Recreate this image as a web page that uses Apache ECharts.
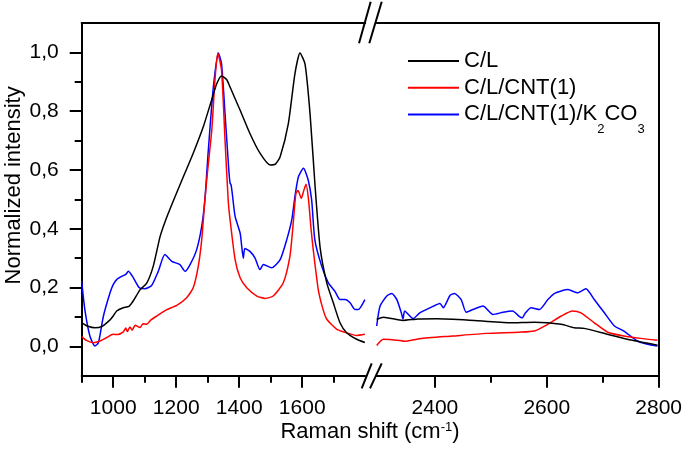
<!DOCTYPE html>
<html>
<head>
<meta charset="utf-8">
<script src="https://cdn.jsdelivr.net/npm/echarts@6/dist/echarts.min.js"></script>
<style>
html,body{margin:0;padding:0;background:#fff;}
#chart{width:685px;height:454px;}
</style>
</head>
<body>
<div id="chart"></div>
<script>
// ---- data (Raman shift cm-1, normalized intensity) ----
const seriesNames = ['C/L', 'C/L/CNT(1)', 'C/L/CNT(1)/K2CO3'];
const seriesColors = ['#000000', '#ff0000', '#0000ff'];

const clLow = [[900,0.080],[920,0.068],[942,0.063],[965,0.068],[990,0.090],[1000,0.103],[1011,0.120],[1032,0.131],[1050,0.136],[1064,0.155],[1085,0.192],[1106,0.214],[1127,0.272],[1149,0.374],[1165,0.425],[1191,0.495],[1222,0.575],[1254,0.657],[1286,0.747],[1313,0.840],[1329,0.894],[1344,0.920],[1360,0.908],[1371,0.882],[1403,0.803],[1434,0.724],[1466,0.657],[1498,0.617],[1515,0.620],[1530,0.645],[1556,0.758],[1577,0.928],[1593,0.998],[1609,0.960],[1625,0.790],[1641,0.543],[1657,0.335],[1678,0.216],[1699,0.147],[1720,0.080],[1741,0.046],[1773,0.024],[1799,0.013]];
const clHigh = [[2296,0.092],[2308,0.099],[2343,0.088],[2370,0.093],[2403,0.094],[2462,0.089],[2534,0.080],[2578,0.082],[2626,0.075],[2649,0.063],[2667,0.061],[2708,0.041],[2744,0.024],[2798,0.004]];

const cntLow = [[900,0.033],[915,0.020],[937,0.012],[958,0.018],[980,0.030],[1000,0.041],[1015,0.040],[1032,0.049],[1040,0.062],[1045,0.050],[1053,0.066],[1060,0.055],[1070,0.072],[1085,0.064],[1095,0.077],[1106,0.075],[1120,0.090],[1138,0.103],[1170,0.125],[1202,0.139],[1233,0.165],[1254,0.199],[1270,0.272],[1281,0.363],[1291,0.498],[1300,0.600],[1313,0.736],[1323,0.905],[1332,0.998],[1344,0.939],[1355,0.702],[1365,0.498],[1371,0.431],[1387,0.295],[1403,0.233],[1424,0.199],[1456,0.171],[1482,0.163],[1508,0.171],[1540,0.216],[1561,0.306],[1570,0.400],[1580,0.520],[1587,0.530],[1597,0.503],[1605,0.530],[1612,0.551],[1620,0.500],[1628,0.400],[1635,0.329],[1651,0.193],[1665,0.130],[1678,0.092],[1710,0.058],[1741,0.046],[1773,0.037],[1799,0.041]];
const cntHigh = [[2296,0.003],[2308,0.024],[2337,0.020],[2345,0.017],[2373,0.026],[2432,0.035],[2492,0.044],[2550,0.048],[2578,0.052],[2602,0.075],[2626,0.103],[2646,0.120],[2661,0.114],[2685,0.080],[2709,0.048],[2738,0.035],[2768,0.027],[2798,0.021]];

const kLow = [[900,0.221],[910,0.125],[926,0.035],[942,0.001],[953,0.012],[969,0.103],[990,0.182],[1000,0.210],[1011,0.227],[1027,0.238],[1040,0.245],[1048,0.255],[1064,0.233],[1083,0.199],[1101,0.196],[1122,0.207],[1143,0.255],[1164,0.312],[1186,0.289],[1212,0.278],[1228,0.255],[1244,0.278],[1265,0.329],[1281,0.408],[1291,0.498],[1302,0.668],[1318,0.882],[1334,0.998],[1344,0.961],[1355,0.792],[1367,0.600],[1371,0.555],[1374,0.550],[1378,0.520],[1387,0.442],[1403,0.385],[1408,0.340],[1413,0.300],[1418,0.333],[1434,0.323],[1450,0.301],[1466,0.261],[1477,0.278],[1503,0.267],[1530,0.295],[1551,0.363],[1567,0.431],[1577,0.510],[1588,0.577],[1604,0.606],[1619,0.566],[1630,0.498],[1640,0.363],[1662,0.272],[1683,0.216],[1704,0.187],[1720,0.159],[1736,0.159],[1752,0.148],[1768,0.125],[1778,0.125],[1799,0.159]];
const kHigh = [[2296,0.069],[2302,0.137],[2314,0.171],[2323,0.180],[2332,0.159],[2340,0.114],[2343,0.092],[2346,0.120],[2361,0.094],[2373,0.114],[2391,0.131],[2409,0.146],[2415,0.131],[2427,0.173],[2435,0.180],[2447,0.159],[2456,0.116],[2468,0.125],[2486,0.137],[2504,0.108],[2522,0.116],[2539,0.120],[2550,0.103],[2556,0.097],[2562,0.114],[2572,0.131],[2587,0.125],[2602,0.159],[2614,0.180],[2638,0.193],[2655,0.182],[2670,0.196],[2685,0.159],[2703,0.114],[2721,0.069],[2738,0.052],[2762,0.018],[2780,0.007],[2798,0.001]];

const xLowRange = [900, 1800];
const xHighRange = [2296, 2800];
const yRange = [-0.1, 1.1];
const xLowMajor = [1000, 1200, 1400, 1600];
const xLowMinor = [900, 1100, 1300, 1500, 1700];
const xHighMajor = [2400, 2600, 2800];
const xHighMinor = [2500, 2700];
const yMajor = [0, 0.2, 0.4, 0.6, 0.8, 1.0];
const yMinor = [0.1, 0.3, 0.5, 0.7, 0.9];

// ---- chart ----
const FONT = 'Liberation Sans, Arial, sans-serif';
const AX = {color: '#000', width: 2};
function lineOnly(extra) {
  return Object.assign({type: 'value', axisLine: {show: true, onZero: false, lineStyle: AX}, axisTick: {show: false}, axisLabel: {show: false}, splitLine: {show: false}}, extra);
}
function ticksAxis(extra, values, len, withLabels, fmt) {
  return Object.assign({
    type: 'value',
    axisLine: {show: withLabels, onZero: false, lineStyle: AX},
    axisTick: {show: true, inside: false, length: len, customValues: values, lineStyle: {color: '#000', width: 2}},
    axisLabel: withLabels ? {show: true, customValues: values, color: '#000', fontSize: 21, fontFamily: FONT, margin: 22, formatter: fmt} : {show: false},
    splitLine: {show: false}
  }, extra);
}
const yFmt = v => Number(v).toFixed(1).replace('.', ',');
const xFmt = v => String(Math.round(v));

const grids = [
  {left: 81.7, top: 23, width: 283.5, height: 352.7},
  {left: 376.7, top: 23, width: 282.6, height: 352.7}
];

const xAxes = [
  ticksAxis({gridIndex: 0, position: 'bottom', min: xLowRange[0], max: xLowRange[1]}, xLowMajor, 12, true, xFmt),
  ticksAxis({gridIndex: 0, position: 'bottom', min: xLowRange[0], max: xLowRange[1]}, xLowMinor, 7, false),
  lineOnly({gridIndex: 0, position: 'top', min: xLowRange[0], max: xLowRange[1]}),
  ticksAxis({gridIndex: 1, position: 'bottom', min: xHighRange[0], max: xHighRange[1]}, xHighMajor, 12, true, xFmt),
  ticksAxis({gridIndex: 1, position: 'bottom', min: xHighRange[0], max: xHighRange[1]}, xHighMinor, 7, false),
  lineOnly({gridIndex: 1, position: 'top', min: xHighRange[0], max: xHighRange[1]})
];

const yAxes = [
  Object.assign(ticksAxis({gridIndex: 0, position: 'left', min: yRange[0], max: yRange[1]}, yMajor, 12, true, yFmt), {
    name: 'Normalized intensity', nameLocation: 'middle', nameGap: 57, nameRotate: 90,
    nameTextStyle: {color: '#000', fontSize: 22, fontFamily: FONT, padding: [0, 0, 0, 28]}
  }),
  ticksAxis({gridIndex: 0, position: 'left', min: yRange[0], max: yRange[1]}, yMinor, 7, false),
  lineOnly({gridIndex: 1, position: 'right', min: yRange[0], max: yRange[1]})
];
yAxes[0].axisLabel.margin = 23;

const segs = [[clLow, clHigh], [cntLow, cntHigh], [kLow, kHigh]];
const series = [];
segs.forEach((pair, i) => {
  pair.forEach((data, j) => {
    series.push({
      name: seriesNames[i], type: 'line', data: data,
      xAxisIndex: j === 0 ? 0 : 3, yAxisIndex: j === 0 ? 0 : 2,
      symbol: 'none', smooth: 0.2,
      lineStyle: {color: seriesColors[i], width: 1.5}, itemStyle: {color: seriesColors[i]},
      z: 3 - i, animation: false
    });
  });
});

const brk = [
  [359, 43.3, 370.7, 1.7], [369.3, 43.3, 381.7, 1.7],
  [361.7, 388.3, 371.7, 363.3], [370, 388.3, 381.7, 363.3]
];

const option = {
  animation: false,
  backgroundColor: '#fff',
  grid: grids,
  xAxis: xAxes,
  yAxis: yAxes,
  legend: {
    orient: 'vertical', left: 408, top: 39, padding: 0,
    icon: 'rect', itemWidth: 51, itemHeight: 2, itemGap: -17.3,
    data: seriesNames,
    textStyle: {
      color: '#000', fontSize: 22, fontFamily: FONT, lineHeight: 44,
      rich: {
        a: {fontSize: 22, fontFamily: FONT, lineHeight: 44, color: '#000'},
        s: {fontSize: 13, fontFamily: FONT, lineHeight: 13, padding: [31, 0, 0, 0], color: '#000'}
      }
    },
    formatter: function (name) {
      if (name === 'C/L/CNT(1)/K2CO3') return '{a|C/L/CNT(1)/K}{s|2}{a|CO}{s|3}';
      return '{a|' + name + '}';
    }
  },
  series: series,
  graphic: brk.map(b => ({
    type: 'line', shape: {x1: b[0], y1: b[1], x2: b[2], y2: b[3]},
    style: {stroke: '#000', lineWidth: 2}, z: 100
  })).concat([{
    type: 'text', x: 370, y: 432, z: 100,
    style: {
      text: '{a|Raman shift (cm}{s|-1}{a|)}', align: 'center', verticalAlign: 'middle',
      fill: '#000', font: '22px ' + FONT,
      rich: {
        a: {fontSize: 22, fontFamily: FONT, fill: '#000'},
        s: {fontSize: 13, fontFamily: FONT, fill: '#000', padding: [0, 0, 10, 0]}
      }
    }
  }])
};

const chart = echarts.init(document.getElementById('chart'), null, {renderer: 'canvas'});
chart.setOption(option);
</script>
</body>
</html>
